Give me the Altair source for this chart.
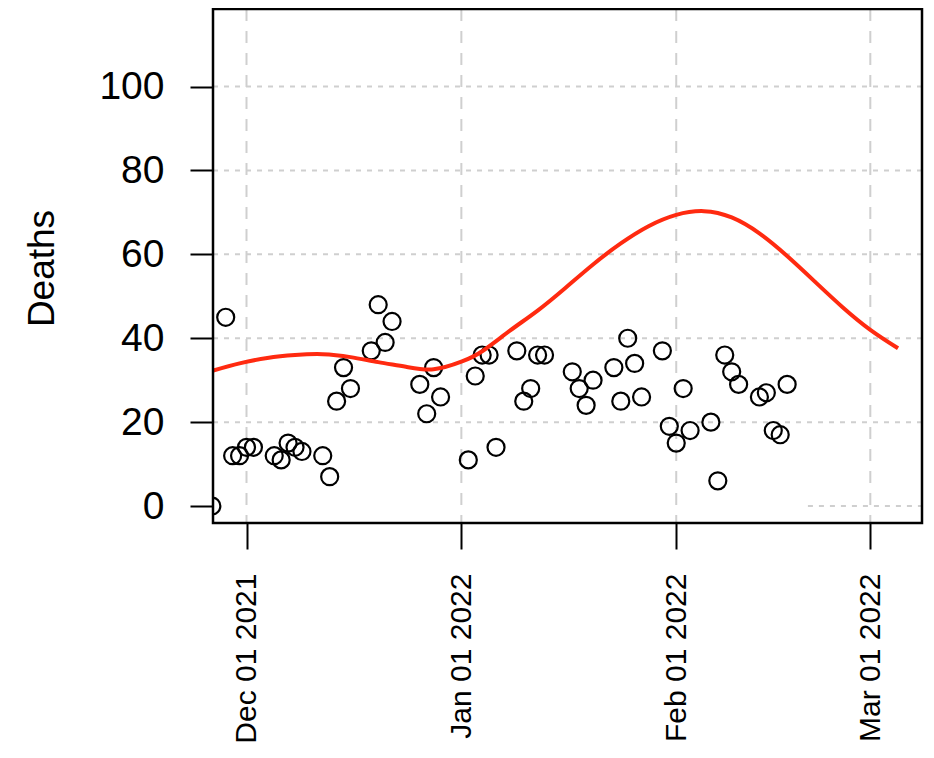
import altair as alt
import pandas as pd

# ---- data ----
pt_dates = [
    "2021-11-26", "2021-11-28", "2021-11-29", "2021-11-30", "2021-12-01", "2021-12-02",
    "2021-12-05", "2021-12-06", "2021-12-07", "2021-12-08", "2021-12-09",
    "2021-12-12", "2021-12-13", "2021-12-14", "2021-12-15", "2021-12-16",
    "2021-12-19", "2021-12-20", "2021-12-21", "2021-12-22",
    "2021-12-26", "2021-12-27", "2021-12-28", "2021-12-29",
    "2022-01-02", "2022-01-03", "2022-01-04", "2022-01-05", "2022-01-06",
    "2022-01-09", "2022-01-10", "2022-01-11", "2022-01-12", "2022-01-13",
    "2022-01-17", "2022-01-18", "2022-01-19", "2022-01-20",
    "2022-01-23", "2022-01-24", "2022-01-25", "2022-01-26", "2022-01-27",
    "2022-01-30", "2022-01-31", "2022-02-01", "2022-02-02", "2022-02-03",
    "2022-02-06", "2022-02-07", "2022-02-08", "2022-02-09", "2022-02-10",
    "2022-02-13", "2022-02-14", "2022-02-15", "2022-02-16", "2022-02-17",
]
pt_deaths = [
    0, 45, 12, 12, 14, 14,
    12, 11, 15, 14, 13,
    12, 7, 25, 33, 28,
    37, 48, 39, 44,
    29, 22, 33, 26,
    11, 31, 36, 36, 14,
    37, 25, 28, 36, 36,
    32, 28, 24, 30,
    33, 25, 40, 34, 26,
    37, 19, 15, 28, 18,
    20, 6, 36, 32, 29,
    26, 27, 18, 17, 29,
]

fit_dates = [
    "2021-11-26", "2021-11-30", "2021-12-04", "2021-12-08", "2021-12-12", "2021-12-16",
    "2021-12-20", "2021-12-24", "2021-12-28", "2022-01-01", "2022-01-04", "2022-01-08",
    "2022-01-12", "2022-01-16", "2022-01-20", "2022-01-24", "2022-01-28", "2022-02-01",
    "2022-02-05", "2022-02-09", "2022-02-13", "2022-02-17", "2022-02-21", "2022-02-25",
    "2022-03-01", "2022-03-05",
]
fit_deaths = [
    32.2, 34.0, 35.3, 36.0, 36.2, 35.5,
    34.3, 33.2, 32.6, 34.4, 36.9, 41.8,
    46.6, 52.0, 57.6, 62.6, 66.7, 69.4,
    70.3, 68.8, 65.0, 59.6, 53.5, 47.4,
    42.0, 37.6,
]

ytick_vals = [0, 20, 40, 60, 80, 100]
hgrid_vals = [20, 40, 60, 80, 100]
xtick_dates = [(2021, 12, 1), (2022, 1, 1), (2022, 2, 1), (2022, 3, 1)]
xtick_strs = ["2021-12-01", "2022-01-01", "2022-02-01", "2022-03-01"]
zero_grid = {"start": ["2022-02-20"], "end": ["2022-03-09"], "y": [0]}

pts = pd.DataFrame({"date": pt_dates, "deaths": pt_deaths})
fit = pd.DataFrame({"date": fit_dates, "deaths": fit_deaths})
vgrid = pd.DataFrame({"date": xtick_strs})
hgrid = pd.DataFrame({"y": hgrid_vals})
zgrid = pd.DataFrame(zero_grid)
frame = pd.DataFrame({"k": [0]})

FONT = "Liberation Sans"

xscale = alt.Scale(
    type="utc",
    domain=[
        alt.DateTime(year=2021, month=11, date=26, hours=4, utc=True),
        alt.DateTime(year=2022, month=3, date=8, hours=11, utc=True),
    ],
)
yscale = alt.Scale(domain=[-4.05, 118.5], nice=False, zero=False)

xaxis = alt.Axis(
    values=[alt.DateTime(year=y, month=m, date=d, utc=True) for (y, m, d) in xtick_dates],
    labelExpr="utcFormat(datum.value, '%b %d %Y')",
    labelAngle=270,
    labelAlign="right",
    labelBaseline="middle",
    labelFontSize=30,
    labelFont=FONT,
    labelColor="black",
    labelPadding=24,
    tickSize=26,
    tickWidth=2,
    tickColor="black",
    domain=False,
    grid=False,
    title=None,
)
yaxis = alt.Axis(
    values=ytick_vals,
    labelFontSize=39,
    labelFont=FONT,
    labelColor="black",
    labelPadding=26,
    tickSize=23,
    tickWidth=2,
    tickColor="black",
    domain=False,
    grid=False,
    title="Deaths",
    titleFont=FONT,
    titleFontSize=37,
    titleFontWeight="normal",
    titleColor="black",
    titleAngle=270,
    titleAlign="center",
    titleBaseline="middle",
    titleX=-171,
    titleY=259,
)

vg = alt.Chart(vgrid).mark_rule(color="#cfcfcf", strokeWidth=2, strokeDash=[12, 10]).encode(
    x=alt.X("date:T", scale=xscale, axis=xaxis)
)
hg = alt.Chart(hgrid).mark_rule(color="#cfcfcf", strokeWidth=2, strokeDash=[5, 6]).encode(
    y=alt.Y("y:Q", scale=yscale, axis=yaxis)
)
zg = alt.Chart(zgrid).mark_rule(color="#cfcfcf", strokeWidth=2, strokeDash=[5, 6], clip=True).encode(
    x="start:T", x2="end:T", y="y:Q"
)
points = alt.Chart(pts).mark_point(
    shape="circle", filled=False, color="black", strokeWidth=2.2, size=290, opacity=1, clip=True
).encode(x="date:T", y="deaths:Q")
line = alt.Chart(fit).mark_line(
    color="#ff2a10", strokeWidth=4, interpolate="natural", clip=True
).encode(x="date:T", y="deaths:Q")
box = alt.Chart(frame).mark_rect(fill=None, stroke="black", strokeWidth=2.5).encode(
    x=alt.value(0), x2=alt.value(709), y=alt.value(0), y2=alt.value(514)
)

chart = alt.layer(vg, hg, zg, points, line, box).properties(
    width=709,
    height=514,
    background="white",
    autosize=alt.AutoSizeParams(type="none"),
    padding={"left": 205, "top": 1, "right": 4, "bottom": 230},
).configure_view(stroke=None)

chart.save("out.html", embed_options={"renderer": "svg", "actions": False})
